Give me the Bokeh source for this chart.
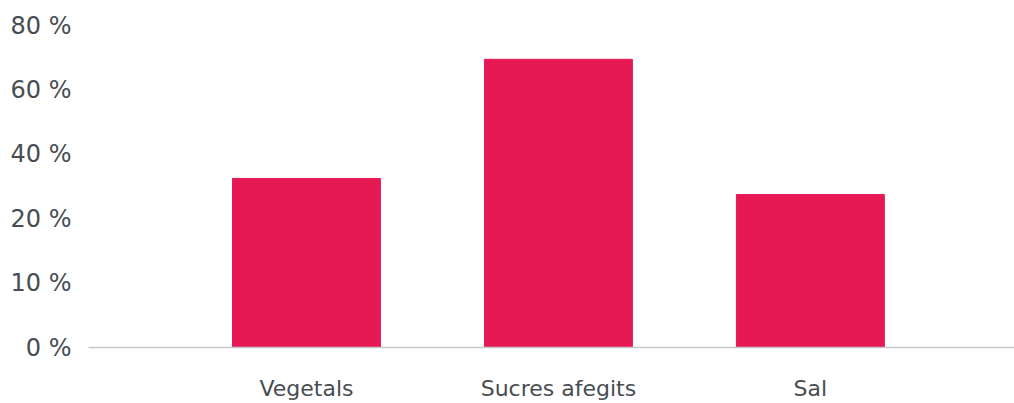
from bokeh.plotting import figure
from bokeh.models import FixedTicker, ColumnDataSource
from bokeh.embed import file_html
from bokeh.resources import INLINE

categories = ["Vegetals", "Sucres afegits", "Sal"]
# bar heights on the chart's evenly spaced axis (16 units per tick step)
values = [42.0, 71.6, 38.0]
tick_positions = [0, 16, 32, 48, 64, 80]
tick_labels = ["0 %", "10 %", "20 %", "40 %", "60 %", "80 %"]

xs = list(range(1, len(categories) + 1))
src = ColumnDataSource(dict(x=xs, top=values))

p = figure(width=1014, height=403, output_backend="svg", toolbar_location=None,
           x_range=(0.135, 3.81), y_range=(0, 83.73),
           min_border_left=88, min_border_right=0, min_border_top=10, min_border_bottom=56)
p.outline_line_color = None
p.background_fill_color = "white"
p.border_fill_color = "white"
p.grid.visible = False

p.vbar(x="x", top="top", width=0.587, source=src, color="#e71955")

p.xaxis.ticker = FixedTicker(ticks=xs)
p.xaxis.major_label_overrides = {x: c for x, c in zip(xs, categories)}
p.xaxis.axis_line_color = "#c5c7cb"
p.xaxis.axis_line_width = 1.5
p.xaxis.major_tick_line_color = None
p.xaxis.minor_tick_line_color = None
p.xaxis.major_label_standoff = 22
p.xaxis.major_label_text_font = "DejaVu Sans"
p.xaxis.major_label_text_font_size = "22px"
p.xaxis.major_label_text_color = "#474d52"

p.yaxis.ticker = FixedTicker(ticks=tick_positions)
p.yaxis.major_label_overrides = {t: l for t, l in zip(tick_positions, tick_labels)}
p.yaxis.axis_line_color = None
p.yaxis.major_tick_line_color = None
p.yaxis.minor_tick_line_color = None
p.yaxis.major_label_standoff = 11
p.yaxis.major_label_text_font = "DejaVu Sans"
p.yaxis.major_label_text_font_size = "24px"
p.yaxis.major_label_text_color = "#474d52"

open("out.html", "w").write(file_html(p, INLINE))
